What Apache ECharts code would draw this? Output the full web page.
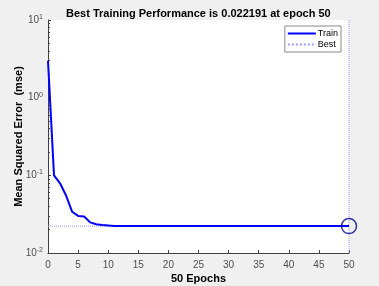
<!DOCTYPE html>
<html><head><meta charset="utf-8">
<script src="https://cdn.jsdelivr.net/npm/echarts@6/dist/echarts.min.js"></script>
<style>html,body{margin:0;padding:0;background:#f0f0f0;}#c{width:379px;height:286px;}</style>
</head><body><div id="c"></div>
<script>
var epochs = [0,1,2,3,4,5,6,7,8,9,10,11,12,13,14,15,16,17,18,19,20,21,22,23,24,25,26,27,28,29,30,31,32,33,34,35,36,37,38,39,40,41,42,43,44,45,46,47,48,49,50];
var trainMse = [3.0,0.100,0.079,0.055,0.034,0.030,0.0295,0.0248,0.0235,0.0229,0.0226,0.0223,0.02222,0.02221,0.0222,0.0222,0.0222,0.0222,0.0222,0.0222,0.0222,0.0222,0.0222,0.0222,0.0222,0.0222,0.0222,0.0222,0.0222,0.0222,0.0222,0.0222,0.0222,0.0222,0.0222,0.0222,0.0222,0.0222,0.0222,0.0222,0.0222,0.0222,0.0222,0.0222,0.0222,0.0222,0.0222,0.0222,0.0222,0.0222,0.022191];
var bestEpoch = 50;
var bestValue = 0.022191;
var titleText = 'Best Training Performance is 0.022191 at epoch 50';

var chart = echarts.init(document.getElementById('c'));
var font = 'Liberation Sans, Arial, sans-serif';
chart.setOption({
  backgroundColor: '#f0f0f0',
  animation: false,
  title: {text: titleText, left: 61, top: 3,
    textStyle: {fontFamily: font, fontSize: 11, fontWeight: 'bold', color: '#000'}},
  legend: {
    right: 38, top: 26, orient: 'vertical', itemWidth: 28, itemHeight: 10, itemGap: 2,
    backgroundColor: '#fff', borderColor: '#888', borderWidth: 1, borderRadius: 0, padding: [3,3,3,2],
    itemStyle: {opacity: 0},
    textStyle: {fontFamily: font, fontSize: 9, color: '#000', padding: [0,0,0,-3]},
    data: ['Train','Best']
  },
  grid: {left: 48, right: 30, top: 20, bottom: 33, show: true, backgroundColor: '#fff', borderWidth: 0,
    outerBoundsMode: 'none', containLabel: false},
  xAxis: {
    type: 'value', min: 0, max: 50, interval: 5,
    name: '50 Epochs', nameLocation: 'middle', nameGap: 20, nameMoveOverlap: false,
    nameTextStyle: {fontFamily: font, fontSize: 11, fontWeight: 'bold', color: '#000'},
    axisLine: {lineStyle: {color: '#404040', width: 1}},
    axisTick: {inside: true, length: 3, lineStyle: {color: '#404040'}},
    axisLabel: {fontFamily: font, fontSize: 10, color: '#4d4d4d', margin: 7},
    splitLine: {show: false}
  },
  yAxis: {
    type: 'log', logBase: 10, min: 0.01, max: 10,
    name: 'Mean Squared Error  (mse)', nameLocation: 'middle', nameGap: 24, nameMoveOverlap: false,
    nameTextStyle: {fontFamily: font, fontSize: 11, fontWeight: 'bold', color: '#000'},
    axisLine: {show: true, lineStyle: {color: '#404040', width: 1}},
    axisTick: {show: true, inside: true, length: 3, lineStyle: {color: '#404040'}},
    minorTick: {show: true, splitNumber: 9, length: 2, lineStyle: {color: '#404040'}},
    axisLabel: {
      fontFamily: font, fontSize: 10, color: '#4d4d4d', margin: 5,
      formatter: function (v) {
        var e = Math.round(Math.log10(v));
        return '10{s|' + e + '}';
      },
      rich: {s: {fontSize: 7, verticalAlign: 'top', padding: [0,0,6,0], color: '#4d4d4d', fontFamily: font}}
    },
    splitLine: {show: false}
  },
  series: [
    {name: 'Train', type: 'line', symbol: 'none', color: '#0000ff',
     lineStyle: {width: 2, color: '#0000ff'},
     data: epochs.map(function (e, i) { return [e, trainMse[i]]; }), z: 3},
    {name: 'Best', type: 'line', symbol: 'none', color: '#9999ff',
     lineStyle: {width: 1, type: 'dotted', color: '#9999ff'},
     data: [[0, bestValue], [bestEpoch, bestValue]], z: 2},
    {name: 'BestV', type: 'line', symbol: 'none',
     lineStyle: {width: 1, type: 'dotted', color: '#9999ff'},
     data: [[bestEpoch, 0.01], [bestEpoch, 10]], z: 2},
    {name: 'BestMark', type: 'scatter', symbol: 'circle', symbolSize: 15,
     itemStyle: {color: 'rgba(0,0,0,0)', borderColor: '#00008b', borderWidth: 1.5},
     data: [[bestEpoch, bestValue]], z: 4}
  ]
});
</script></body></html>
